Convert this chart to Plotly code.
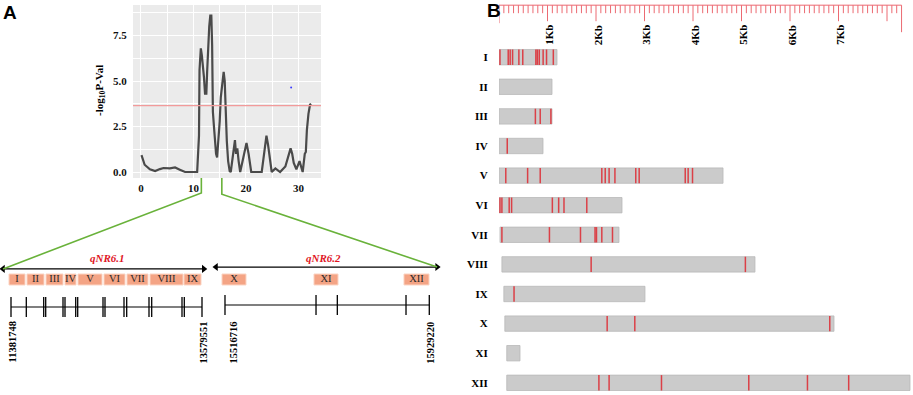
import plotly.graph_objects as go

W, H = 913, 395
SERIF = "Liberation Serif, Times New Roman, serif"
SANS = "Liberation Sans, Arial, sans-serif"

# ---------------- data: panel A (QTL scan) ----------------
lod_pos = [0.1, 0.7, 1.7, 2.7, 3.6, 4.3, 5.5, 6.5, 7.4, 8.4,
           10.7, 11.05, 11.15, 11.25, 11.4, 11.6, 11.8, 12.0, 12.2, 12.45,
           12.6, 12.8, 13.0, 13.2, 13.4, 13.55, 13.7, 13.9, 14.1, 14.3,
           14.5, 14.65, 14.8, 15.0, 15.2, 15.5, 15.75, 15.95, 16.1, 16.35,
           16.6, 16.9, 17.1, 17.5, 17.9, 18.1, 18.35, 18.6, 18.9, 19.5,
           20.1, 20.5, 21.0, 23.0, 23.5, 23.9, 24.2, 24.9, 25.6, 26.5,
           27.5, 28.0, 28.5, 28.8, 29.1, 29.6, 30.2, 30.8, 31.2, 31.4,
           31.6, 31.9, 32.2, 32.4]
lod_val = [0.93, 0.4, 0.15, 0.05, 0.16, 0.22, 0.2, 0.25, 0.13, 0.0,
           0.0, 2.0, 5.6, 6.0, 6.8, 6.4, 5.9, 5.2, 4.3, 4.3,
           5.5, 7.0, 8.0, 8.6, 8.6, 7.0, 3.3, 2.5, 1.6, 1.0,
           0.8, 1.4, 1.9, 2.8, 4.1, 4.8, 5.5, 5.0, 3.5, 1.7,
           0.6, 0.05, 0.0, 0.9, 1.75, 1.0, 1.3, 0.6, 0.0, 0.8,
           1.6, 1.0, 0.0, 0.0, 1.2, 2.0, 1.5, 0.0, 0.2, 0.0,
           0.3, 0.8, 1.3, 1.0, 0.5, 0.15, 0.6, 0.0, 1.0, 1.1,
           2.3, 3.2, 3.7, 3.75]
threshold = 3.65
qtl_interval = [11.5, 15.4]
blue_x, blue_y = [28.6], [4.65]
lod_xticks = [0, 10, 20, 30]
lod_yticks = [0, 2.5, 5, 7.5]
lod_yticktext = ["0.0", "2.5", "5.0", "7.5"]

# ---------------- data: panel A (physical regions, Mb) ----------------
region61 = [11.381748, 13.579551]
region62 = [15.516716, 15.929220]
region_labels = ["11381748", "13579551", "15516716", "15929220"]
arrow61 = [11.290, 13.600]
arrow62 = [15.4985, 15.9450]
markers61 = [11.3817, 11.5578, 11.7580, 11.7810, 11.9801, 12.0031, 12.1263, 12.1492,
             12.4404, 12.4634, 12.6820, 12.7131, 12.9697, 13.0008, 13.3494, 13.3759, 13.5796]
markers62 = [15.5167, 15.7005, 15.7435, 15.8822, 15.9292]
genes61 = ["I", "II", "III", "IV", "V", "VI", "VII", "VIII", "IX"]
starts61 = [11.3587, 11.5659, 11.7845, 12.0031, 12.1527, 12.4519, 12.7165, 12.9812, 13.3724]
ends61 = [11.5428, 11.7615, 11.9801, 12.1297, 12.4289, 12.6935, 12.9582, 13.3609, 13.5680]
genes62 = ["X", "XI", "XII"]
starts62 = [15.5107, 15.6964, 15.8781]
ends62 = [15.5591, 15.7449, 15.9286]

# ---------------- data: panel B (gene structures, Kb) ----------------
gene_ids = ["I", "II", "III", "IV", "V", "VI", "VII", "VIII", "IX", "X", "XI", "XII"]
gene_start_kb = [0, 0, 0, 0, 0, 0, 0.02, 0.06, 0.10, 0.12, 0.16, 0.16]
gene_end_kb = [1.196, 1.093, 1.093, 0.907, 4.619, 2.536, 2.474, 5.278, 3.010, 6.907, 0.433, 8.474]
snp_kb = [
    [0.02, 0.19, 0.23, 0.28, 0.41, 0.49, 0.76, 0.79, 0.83, 0.91, 0.98, 1.12],
    [],
    [0.75, 0.85, 1.07],
    [0.17],
    [0.14, 0.59, 0.85, 2.12, 2.19, 2.27, 2.39, 2.82, 2.89, 3.84, 3.90, 3.99],
    [0.02, 0.06, 0.21, 0.26, 1.10, 1.23, 1.34, 1.81],
    [0.06, 1.04, 1.68, 1.98, 2.01, 2.12, 2.34],
    [1.90, 5.08],
    [0.31],
    [2.23, 2.80, 6.82],
    [],
    [2.06, 2.27, 3.35, 5.15, 6.36, 7.21],
]
ruler_len_kb = 8.3
ruler_major = [1, 2, 3, 4, 5, 6, 7]
ruler_labels = ["1Kb", "2Kb", "3Kb", "4Kb", "5Kb", "6Kb", "7Kb"]

# ---------------- layout helpers ----------------
def pxx(p):
    return p / W

def pxy(p):
    return 1 - p / H

def calib_range(dom_px, anchor_px, anchor_vals):
    s = (anchor_vals[1] - anchor_vals[0]) / (anchor_px[1] - anchor_px[0])
    return [anchor_vals[0] + (dom_px[0] - anchor_px[0]) * s,
            anchor_vals[0] + (dom_px[1] - anchor_px[0]) * s]

def to_paper(v, dom, rng):
    return dom[0] + (v - rng[0]) / (rng[1] - rng[0]) * (dom[1] - dom[0])

LOD_XDOM = [pxx(133), pxx(321)]
LOD_YDOM = [pxy(178), pxy(5)]
LOD_XR = [-1.52, 34.29]
LOD_YR = [-0.33, 9.18]

X2_PX = [0, 212]
X3_PX = [212, 445]
X2_DOM = [pxx(X2_PX[0]), pxx(X2_PX[1])]
X3_DOM = [pxx(X3_PX[0]), pxx(X3_PX[1])]
X2_R = calib_range(X2_PX, [11, 202], region61)
X3_R = calib_range(X3_PX, [225, 429.3], region62)
Y2_DOM = [pxy(372), pxy(250)]
Y2_R = [4, 0]

ROW_ARROW61, ROW_ARROW62 = 0.62, 0.56
ROW_QNR = 0.26
ROW_BOX, BOX_H = 0.967, 0.36
ROW_LINE61, ROW_LINE62 = 1.869, 1.803
TICK61 = [1.541, 2.197]
TICK62 = [1.475, 2.131]
ROW_POSLAB = 3.03

KB_PX = 48.5
X4_DOM = [pxx(499), 1.0]
X4_R = [0, (913 - 499) / KB_PX]
Y3_R = [11.412, -1.932]
BAR_H = 0.52
RULER_Y = -1.757
RULER_MINOR_END = -1.486
RULER_MAJOR_END = -1.216
RULER_FIRST_END = -1.149
RULER_LAST_END = -0.845
RULER_LABEL_Y = -0.74

fig = go.Figure()

# ---- LOD curve ----
fig.add_trace(go.Scatter(x=lod_pos, y=lod_val, mode="lines",
                         line=dict(color="#4a4a4a", width=2.2),
                         xaxis="x", yaxis="y", hoverinfo="skip"))
fig.add_trace(go.Scatter(x=blue_x, y=blue_y, mode="markers",
                         marker=dict(color="#3b3bff", size=2),
                         xaxis="x", yaxis="y", hoverinfo="skip"))

# ---- schematic: double arrows ----
for arr, row, xa in ((arrow61, ROW_ARROW61, "x2"), (arrow62, ROW_ARROW62, "x3")):
    fig.add_trace(go.Scatter(x=arr, y=[row, row], mode="lines+markers",
                             line=dict(color="black", width=1.3),
                             marker=dict(symbol=["triangle-left", "triangle-right"],
                                         size=7, color="black", line=dict(width=0)),
                             xaxis=xa, yaxis="y2", hoverinfo="skip"))

# ---- schematic: gene boxes ----
fig.add_trace(go.Bar(orientation="h", base=starts61,
                     x=[e - s for s, e in zip(starts61, ends61)],
                     y=[ROW_BOX] * len(genes61), width=BOX_H,
                     marker=dict(color="#F4A485", line=dict(color="#FBD3C2", width=1)),
                     xaxis="x2", yaxis="y2", hoverinfo="skip"))
fig.add_trace(go.Bar(orientation="h", base=starts62,
                     x=[e - s for s, e in zip(starts62, ends62)],
                     y=[ROW_BOX] * len(genes62), width=BOX_H,
                     marker=dict(color="#F4A485", line=dict(color="#FBD3C2", width=1)),
                     xaxis="x3", yaxis="y2", hoverinfo="skip"))
fig.add_trace(go.Scatter(x=[(s + e) / 2 for s, e in zip(starts61, ends61)],
                         y=[ROW_BOX] * len(genes61), text=genes61, mode="text",
                         textfont=dict(family=SERIF, size=10.5, color="#2a2a2a"),
                         xaxis="x2", yaxis="y2", hoverinfo="skip"))
fig.add_trace(go.Scatter(x=[(s + e) / 2 for s, e in zip(starts62, ends62)],
                         y=[ROW_BOX] * len(genes62), text=genes62, mode="text",
                         textfont=dict(family=SERIF, size=10.5, color="#2a2a2a"),
                         xaxis="x3", yaxis="y2", hoverinfo="skip"))

# ---- schematic: region lines and marker ticks ----
def seg_lines(xs, y0, y1):
    X, Y = [], []
    for v in xs:
        X += [v, v, None]
        Y += [y0, y1, None]
    return X, Y

fig.add_trace(go.Scatter(x=region61, y=[ROW_LINE61] * 2, mode="lines",
                         line=dict(color="black", width=1.2), xaxis="x2", yaxis="y2"))
mx, my = seg_lines(markers61, TICK61[0], TICK61[1])
fig.add_trace(go.Scatter(x=mx, y=my, mode="lines", line=dict(color="black", width=1.3),
                         xaxis="x2", yaxis="y2"))
fig.add_trace(go.Scatter(x=region62, y=[ROW_LINE62] * 2, mode="lines",
                         line=dict(color="black", width=1.2), xaxis="x3", yaxis="y2"))
mx, my = seg_lines(markers62, TICK62[0], TICK62[1])
fig.add_trace(go.Scatter(x=mx, y=my, mode="lines", line=dict(color="black", width=1.3),
                         xaxis="x3", yaxis="y2"))

# ---- panel B: gene bars ----
rows = list(range(len(gene_ids)))
fig.add_trace(go.Bar(orientation="h", base=gene_start_kb,
                     x=[e - s for s, e in zip(gene_start_kb, gene_end_kb)],
                     y=rows, width=BAR_H,
                     marker=dict(color="#CBCBCB", line=dict(color="#B9B9B9", width=0.8)),
                     xaxis="x4", yaxis="y3", hoverinfo="skip"))
sx, sy = [], []
for r, snps in zip(rows, snp_kb):
    for v in snps:
        sx += [v, v, None]
        sy += [r - BAR_H / 2, r + BAR_H / 2, None]
fig.add_trace(go.Scatter(x=sx, y=sy, mode="lines",
                         line=dict(color="rgba(222,40,48,0.85)", width=1.5),
                         xaxis="x4", yaxis="y3", hoverinfo="skip"))

# ruler
rx, ry = [0, ruler_len_kb, None], [RULER_Y, RULER_Y, None]
n_minor = int(round(ruler_len_kb * 10))
for i in range(n_minor + 1):
    v = i / 10
    if i == 0:
        end = RULER_FIRST_END
    elif i == n_minor:
        end = RULER_LAST_END
    elif i % 10 == 0:
        end = RULER_MAJOR_END
    else:
        end = RULER_MINOR_END
    rx += [v, v, None]
    ry += [RULER_Y, end, None]
fig.add_trace(go.Scatter(x=rx, y=ry, mode="lines",
                         line=dict(color="#EC6A72", width=1),
                         xaxis="x4", yaxis="y3", hoverinfo="skip"))

# ---------------- annotations ----------------
C = dict(xanchor="center", yanchor="middle", showarrow=False)
ann = []
for v, lab in zip(ruler_major, ruler_labels):
    ann.append(dict(x=v, y=RULER_LABEL_Y, xref="x4", yref="y3", text="<b>%s</b>" % lab,
                    textangle=-90, xshift=2,
                    font=dict(family=SERIF, size=11, color="black"), **C))

ann.append(dict(x=sum(arrow61) / 2, y=ROW_QNR, xref="x2", yref="y2", xshift=4,
                text="<b><i>qNR6.1</i></b>",
                font=dict(family=SERIF, size=11, color="#E0141E"), **C))
ann.append(dict(x=sum(arrow62) / 2, y=ROW_QNR, xref="x3", yref="y2", xshift=-3,
                text="<b><i>qNR6.2</i></b>",
                font=dict(family=SERIF, size=11, color="#E0141E"), **C))

# region position labels
pos_vals = [region61[0], region61[1], region62[0], region62[1]]
pos_ax = ["x2", "x2", "x3", "x3"]
pos_shift = [1, 1, 8, 1]
for v, xa, lab, sh in zip(pos_vals, pos_ax, region_labels, pos_shift):
    ann.append(dict(x=v, y=ROW_POSLAB, xref=xa, yref="y2", text="<b>%s</b>" % lab,
                    textangle=-90, xshift=sh,
                    font=dict(family=SERIF, size=10.5, color="black"), **C))

# y title for LOD
ann.append(dict(x=pxx(100), y=pxy(91), xref="paper", yref="paper",
                text="<b>-log<sub>10</sub>P-Val</b>", textangle=-90,
                font=dict(family=SERIF, size=11, color="black"), **C))
# panel letters
ann.append(dict(x=pxx(10), y=pxy(12), xref="paper", yref="paper", text="<b>A</b>",
                font=dict(family=SANS, size=19, color="black"), **C))
ann.append(dict(x=pxx(494), y=pxy(10), xref="paper", yref="paper", text="<b>B</b>",
                font=dict(family=SANS, size=19, color="black"), **C))

# ---------------- shapes ----------------
shapes = [
    dict(type="rect", xref="x domain", yref="y domain", x0=0, x1=1, y0=0, y1=1,
         fillcolor="#EBEBEB", line=dict(width=0), layer="below"),
    dict(type="line", xref="x domain", yref="y", x0=0, x1=1, y0=threshold, y1=threshold,
         line=dict(color="#F29A9A", width=1.2)),
]
GREEN = "#69B23A"
tick_bottom = pxy(193)
xl = to_paper(qtl_interval[0], LOD_XDOM, LOD_XR)
xr = to_paper(qtl_interval[1], LOD_XDOM, LOD_XR)
yb = LOD_YDOM[0]
lx = to_paper(arrow61[0], X2_DOM, X2_R)
ly = to_paper(ROW_ARROW61, Y2_DOM, Y2_R)
rx_ = to_paper(arrow62[1], X3_DOM, X3_R)
ry_ = to_paper(ROW_ARROW62, Y2_DOM, Y2_R)
shapes.append(dict(type="path", xref="paper", yref="paper",
                   path="M %f,%f L %f,%f L %f,%f" % (xl, yb, xl, tick_bottom, lx, ly),
                   line=dict(color=GREEN, width=1.6)))
shapes.append(dict(type="path", xref="paper", yref="paper",
                   path="M %f,%f L %f,%f L %f,%f" % (xr, yb, xr, tick_bottom - 0.003, rx_, ry_),
                   line=dict(color=GREEN, width=1.6)))

tickfont = dict(family=SERIF, size=11, color="#111111", weight="bold")
hidden = dict(visible=False, showgrid=False, zeroline=False)

fig.update_layout(
    width=W, height=H, autosize=False,
    margin=dict(l=0, r=0, t=0, b=0),
    paper_bgcolor="white", plot_bgcolor="rgba(0,0,0,0)",
    showlegend=False, barmode="overlay",
    xaxis=dict(domain=LOD_XDOM, range=LOD_XR, anchor="y",
               tickvals=lod_xticks, showgrid=True, gridcolor="white", gridwidth=1.1,
               minor=dict(tickvals=[5, 15, 25], showgrid=True, gridcolor="white", gridwidth=0.5),
               zeroline=False, showline=False, ticks="outside", ticklen=0,
               tickcolor="rgba(0,0,0,0)", tickfont=tickfont),
    yaxis=dict(domain=LOD_YDOM, range=LOD_YR, anchor="x",
               tickvals=lod_yticks, ticktext=lod_yticktext,
               showgrid=True, gridcolor="white", gridwidth=1.1,
               minor=dict(tickvals=[1.25, 3.75, 6.25, 8.75], showgrid=True,
                          gridcolor="white", gridwidth=0.5),
               zeroline=False, showline=False, ticks="outside", ticklen=3,
               tickcolor="rgba(0,0,0,0)", tickfont=tickfont),
    xaxis2=dict(domain=X2_DOM, range=X2_R, anchor="y2", **hidden),
    xaxis3=dict(domain=X3_DOM, range=X3_R, anchor="y2", **hidden),
    yaxis2=dict(domain=Y2_DOM, range=Y2_R, anchor="x2", **hidden),
    xaxis4=dict(domain=X4_DOM, range=X4_R, anchor="y3", **hidden),
    yaxis3=dict(domain=[0, 1], range=Y3_R, anchor="x4",
                tickvals=rows, ticktext=gene_ids, showgrid=False, zeroline=False,
                showline=False, ticks="outside", ticklen=8, tickcolor="rgba(0,0,0,0)",
                tickfont=dict(family=SERIF, size=11, color="black", weight="bold")),
    annotations=ann,
    shapes=shapes,
)

fig.write_html("out.html", config={"displayModeBar": False},
               post_script="document.body.style.margin='0px';document.body.style.overflow='hidden';")
